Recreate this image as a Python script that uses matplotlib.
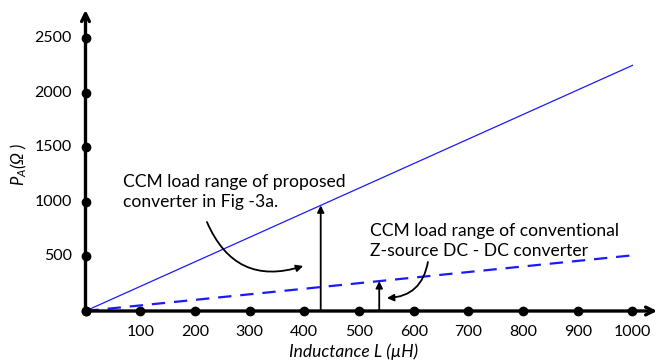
import numpy as np
import matplotlib
matplotlib.use('Agg')
import matplotlib.pyplot as plt

plt.rcParams['font.family'] = ['Lato', 'DejaVu Sans']
plt.rcParams['mathtext.fontset'] = 'custom'
plt.rcParams['mathtext.it'] = 'Lato:italic'
plt.rcParams['mathtext.rm'] = 'Lato:italic'

# load range lines (ohm) vs inductance (uH)
L = [0, 1000]
proposed = [0, 2250]
conventional = [0, 510]

x_ticks = [0, 100, 200, 300, 400, 500, 600, 700, 800, 900, 1000]
y_ticks = [0, 500, 1000, 1500, 2000, 2500]

L_prop = 430
L_conv = 537

fig = plt.figure(figsize=(6.59, 3.63), dpi=100)
ax = fig.add_axes([85.5 / 659, 52 / 363, 571.6 / 659, 301 / 363])
ax.set_xlim(0, 1045)
ax.set_ylim(0, 2757)
for s in ax.spines.values():
    s.set_visible(False)
ax.set_xticks([])
ax.set_yticks([])

ax.plot(L, proposed, color='#1a1aff', lw=0.9, zorder=3)
ax.plot(L, conventional, color='#1a1aff', lw=1.6, dashes=(6, 4), zorder=3)

# axes with arrow heads
ax.annotate('', xy=(1045, 0), xytext=(0, 0),
            arrowprops=dict(arrowstyle='->', lw=2.4, color='black',
                            shrinkA=0, shrinkB=0, mutation_scale=14),
            annotation_clip=False)
ax.annotate('', xy=(0, 2757), xytext=(0, 0),
            arrowprops=dict(arrowstyle='->', lw=2.4, color='black',
                            shrinkA=0, shrinkB=0, mutation_scale=14),
            annotation_clip=False)

ax.plot(x_ticks, [0] * len(x_ticks), 'o', color='black', ms=6, clip_on=False, zorder=5)
ax.plot([0] * len(y_ticks), y_ticks, 'o', color='black', ms=6, clip_on=False, zorder=5)

for x in x_ticks[1:]:
    ax.text(x, -190, str(x), ha='center', va='center', fontsize=11.5)
for y in y_ticks[1:]:
    ax.text(-25, y, str(y), ha='right', va='center', fontsize=11.5)

ax.text(490, -375, 'Inductance L (\u00b5H)', ha='center', va='center',
        fontsize=12.5, style='italic')
ax.text(-122, 1340, r'$P_A(\Omega\ )$', ha='center', va='center',
        fontsize=12, rotation=90)

# vertical range arrows
ax.annotate('', xy=(L_prop, np.interp(L_prop, L, proposed)), xytext=(L_prop, 0),
            arrowprops=dict(arrowstyle='-|>', lw=1.3, color='black',
                            shrinkA=0, shrinkB=0, mutation_scale=10))
ax.annotate('', xy=(L_conv, np.interp(L_conv, L, conventional)), xytext=(L_conv, 0),
            arrowprops=dict(arrowstyle='-|>', lw=1.3, color='black',
                            shrinkA=0, shrinkB=0, mutation_scale=10))

ax.text(68, 1090, 'CCM load range of proposed\nconverter in Fig -3a.',
        ha='left', va='center', fontsize=12.6, linespacing=1.3)
ax.text(520, 641, 'CCM load range of conventional\nZ-source DC - DC converter',
        ha='left', va='center', fontsize=12.6, linespacing=1.3)

# curved pointers from the notes
ax.annotate('', xy=(398, 412), xytext=(222, 815),
            arrowprops=dict(arrowstyle='-|>', lw=1.3, color='black',
                            connectionstyle='arc3,rad=0.45',
                            shrinkA=0, shrinkB=0, mutation_scale=10))
ax.annotate('', xy=(551, 119), xytext=(626, 449),
            arrowprops=dict(arrowstyle='-|>', lw=1.3, color='black',
                            connectionstyle='arc3,rad=-0.4',
                            shrinkA=0, shrinkB=0, mutation_scale=10))

plt.savefig('out.png', dpi=100)
